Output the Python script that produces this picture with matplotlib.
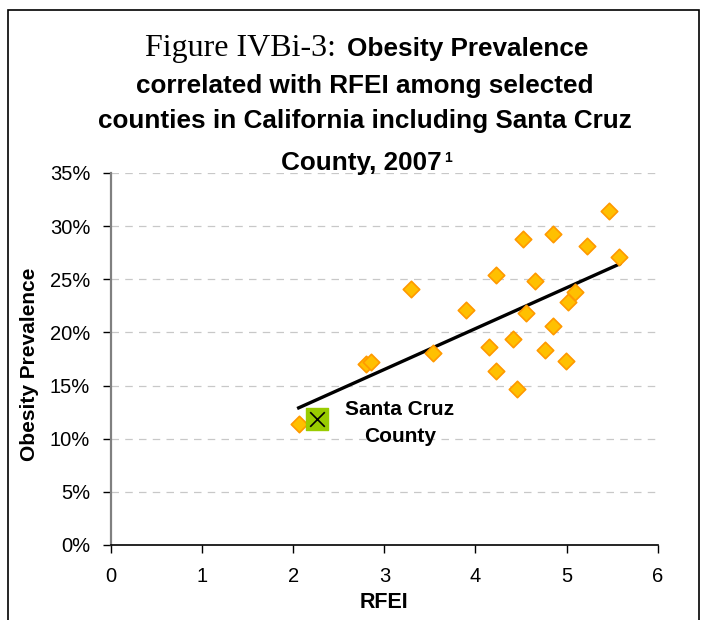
import numpy as np
import matplotlib.pyplot as plt
from matplotlib.patches import Rectangle
from matplotlib.ticker import FuncFormatter, MultipleLocator

# RFEI vs obesity prevalence (%), selected California counties
rfei = [5.47, 4.85, 4.52, 5.22, 5.58, 4.22, 4.65, 3.29, 5.09, 5.01, 3.90, 4.55,
        4.85, 4.41, 4.15, 4.76, 3.53, 4.99, 2.80, 2.85, 4.23, 4.46, 2.06]
obesity = [31.45, 29.3, 28.8, 28.1, 27.1, 25.4, 24.8, 24.05, 23.8, 22.9, 22.1, 21.8,
           20.6, 19.4, 18.65, 18.3, 18.1, 17.3, 17.0, 17.2, 16.4, 14.7, 11.4]

# Santa Cruz County highlighted separately
sc_rfei = 2.26
sc_obesity = 11.9
sc_label = "Santa Cruz\nCounty"

x_ticks = [0, 1, 2, 3, 4, 5, 6]
y_ticks = [0, 5, 10, 15, 20, 25, 30, 35]

SANS = ["Liberation Sans", "DejaVu Sans"]
SERIF = ["Liberation Serif", "DejaVu Serif"]

W, H = 702, 620


def fx(px):
    return px / W


def fy(py):
    return 1 - py / H


fig = plt.figure(figsize=(7.02, 6.2), dpi=100)
ax = fig.add_axes([0.158, 0.121, 0.779, 0.600])

# frame around the whole chart area
fig.patches.append(Rectangle((fx(8), -0.05), fx(691), 1.05 - 10 / H,
                             transform=fig.transFigure, fill=False,
                             edgecolor="black", linewidth=1.2, clip_on=False))

for y in y_ticks[1:]:
    ax.axhline(y, color="#c8c8c8", linewidth=0.9, dashes=(6, 5), zorder=0)

ax.scatter(rfei, obesity, marker="D", s=70, facecolor="#ffc000",
           edgecolor="#ff9900", linewidth=1.2, zorder=3)

# linear trendline (Santa Cruz included in the fit), over the diamond range
fit_x = rfei + [sc_rfei]
fit_y = obesity + [sc_obesity]
slope, intercept = np.polyfit(fit_x, fit_y, 1)
xs = np.array([min(rfei), max(rfei)])
ax.plot(xs, slope * xs + intercept, color="black", linewidth=2.4, zorder=2)

ax.scatter([sc_rfei], [sc_obesity], marker="s", s=260, facecolor="#99cc00",
           edgecolor="#99cc00", zorder=4)
ax.scatter([sc_rfei], [sc_obesity], marker="x", s=110, color="black",
           linewidth=1.2, zorder=5)
ax.text(3.17, 11.5, sc_label, ha="center", va="center", fontsize=15,
        fontweight="bold", family=SANS, linespacing=1.5)

ax.set_xlim(0, 6)
ax.set_ylim(0, 35)
ax.xaxis.set_major_locator(MultipleLocator(1))
ax.set_yticks(y_ticks)
ax.yaxis.set_major_formatter(FuncFormatter(lambda v, p: f"{v:.0f}%"))
ax.tick_params(direction="out", length=6, width=1, labelsize=14.5)
ax.tick_params(axis="x", pad=10)
ax.tick_params(axis="y", pad=9)
for lab in ax.get_xticklabels() + ax.get_yticklabels():
    lab.set_family(SANS)

for side in ("top", "right"):
    ax.spines[side].set_visible(False)
ax.spines["left"].set_color("#808080")
ax.spines["left"].set_linewidth(1.6)
ax.spines["bottom"].set_color("black")
ax.spines["bottom"].set_linewidth(1.2)

ax.set_xlabel("RFEI", fontsize=15.5, fontweight="bold", family=SANS,
              va="center")
ax.xaxis.set_label_coords(0.5, (545 - 603) / 372)
ax.set_ylabel("Obesity Prevalence", fontsize=15, fontweight="bold", family=SANS,
              va="center")
ax.yaxis.set_label_coords((30 - 111) / 547, (545 - 364) / 372)

# title: serif figure number followed by bold sans heading
TS = 18.8
fig.text(fx(145), fy(56), "Figure IVBi-3:", ha="left", va="baseline",
         fontsize=23, family=SERIF)
fig.text(fx(347), fy(56), "Obesity Prevalence", ha="left", va="baseline",
         fontsize=TS, fontweight="bold", family=SANS)
fig.text(fx(365), fy(93), "correlated with RFEI among selected",
         ha="center", va="baseline", fontsize=TS, fontweight="bold", family=SANS)
fig.text(fx(365), fy(128), "counties in California including Santa Cruz",
         ha="center", va="baseline", fontsize=TS, fontweight="bold", family=SANS)
fig.text(fx(442), fy(170), "County, 2007", ha="right", va="baseline",
         fontsize=TS, fontweight="bold", family=SANS)
fig.text(fx(444), fy(151), "1", ha="left", va="top",
         fontsize=10, fontweight="bold", family=SANS)

fig.savefig("out.png", dpi=100)
